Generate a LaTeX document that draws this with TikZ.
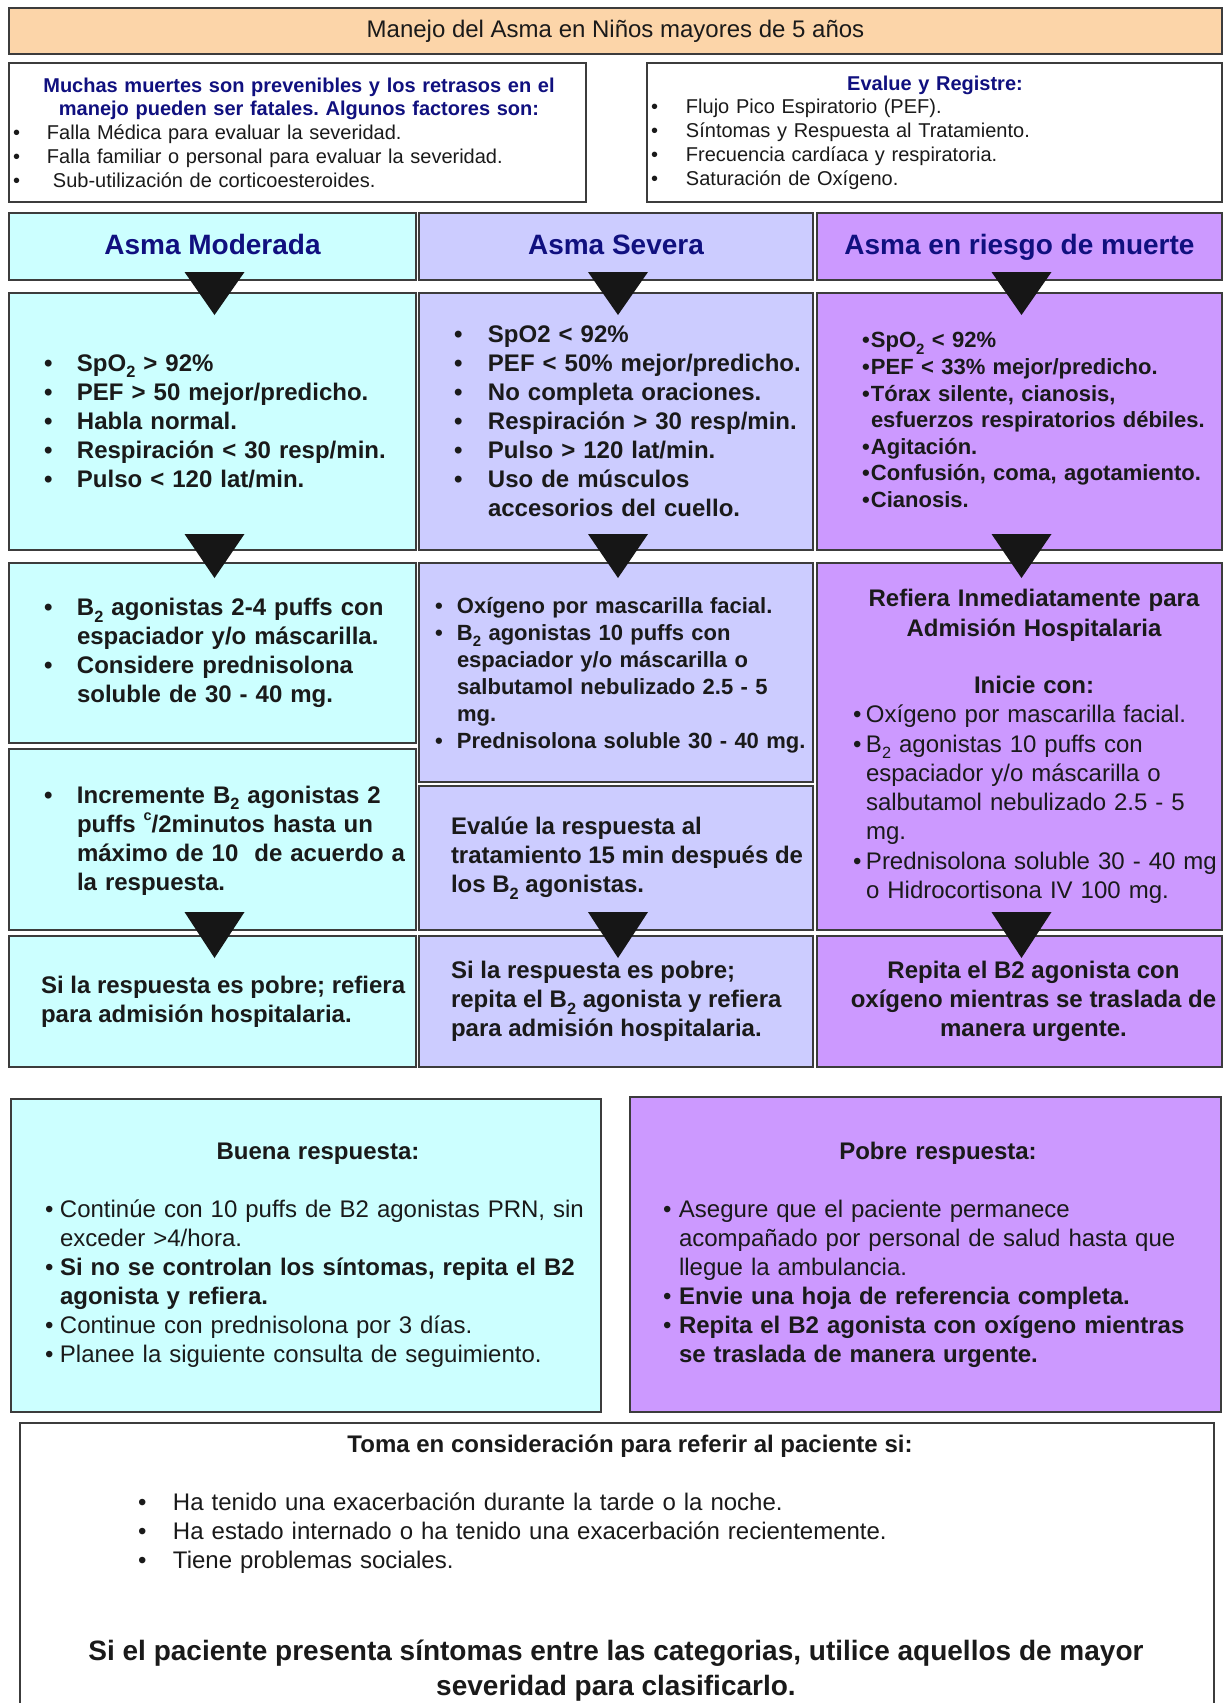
\documentclass[tikz,border=0pt]{standalone}
\usepackage{fontspec}
\setmainfont{Liberation Sans}
\usetikzlibrary{calc}
\definecolor{peach}{HTML}{FCD5A9}
\definecolor{cyanL}{HTML}{CCFFFF}
\definecolor{lav}{HTML}{CCCCFF}
\definecolor{purp}{HTML}{CC99FF}
\definecolor{navy}{HTML}{10107F}
\definecolor{ink}{HTML}{1A1A1A}
\definecolor{bordc}{HTML}{3C3C3C}
\definecolor{tric}{HTML}{161616}
\setlength\parindent{0pt}
\frenchspacing
\newcommand\bitem[2]{\par\hangindent=#1\hangafter=1\noindent\makebox[#1][l]{•}#2\par}
\newcommand\sub[1]{\raisebox{-0.28em}{\scalebox{0.68}{#1}}}
\newcommand\supc[1]{\raisebox{0.5em}{\scalebox{0.6}{#1}}}
\newcommand\arrowtri[3]{\fill[tric] ($(#1.south)+(-28,-#2)$) -- ($(#1.south)+(32,-#2)$) -- ($(#1.south)+(2,#3)$) -- cycle;}
\begin{document}
\frenchspacing
\begin{tikzpicture}[x=1pt,y=-1pt,
  tbox/.style={draw=bordc, line width=1.4pt, anchor=north west, inner sep=0pt, outer sep=0pt},
  txt/.style={inner sep=0pt, outer sep=0pt, text=ink},
  r24/.style={font=\fontsize{24}{29}\selectfont},
  b24/.style={font=\fontsize{24}{29}\selectfont\bfseries},
  b22/.style={font=\fontsize{22}{27}\selectfont\bfseries},
  b22s/.style={font=\fontsize{22}{26.6}\selectfont\bfseries},
  r20/.style={font=\fontsize{20}{23.8}\selectfont},
  hd/.style={txt, text=navy, anchor=base, font=\fontsize{28}{34}\selectfont\bfseries},
  lt/.style={txt, anchor=west, align=left},
]
\useasboundingbox (0,0) rectangle (1224,1703);
\fill[white] (0,0) rectangle (1224,1703);

% title
\node[tbox, fill=peach, minimum width=1213pt, minimum height=46pt] (title) at (9,8) {};
\node[txt, r24] (titlet) at (title.center) {Manejo del Asma en Niños mayores de 5 años};

% info boxes
\node[tbox, fill=white, minimum width=577pt, minimum height=139pt] (inf1) at (9,63) {};
\node[lt, r20, text width=572pt] (inf1t) at ($(inf1.west)+(4,0)$) {{\centering\color{navy}\bfseries Muchas muertes son prevenibles y los retrasos en el\par manejo pueden ser fatales. Algunos factores son:\par}%
\bitem{34pt}{Falla Médica para evaluar la severidad.}%
\bitem{34pt}{Falla familiar o personal para evaluar la severidad.}%
\bitem{34pt}{\hspace{6pt}Sub-utilización de corticoesteroides.}};

\node[tbox, fill=white, minimum width=575pt, minimum height=139pt] (inf2) at (647,63) {};
\node[lt, r20, text width=568pt] (inf2t) at ($(inf2.west)+(4,0)$) {{\centering\color{navy}\bfseries Evalue y Registre:\par}%
\bitem{35pt}{Flujo Pico Espiratorio (PEF).}%
\bitem{35pt}{Síntomas y Respuesta al Tratamiento.}%
\bitem{35pt}{Frecuencia cardíaca y respiratoria.}%
\bitem{35pt}{Saturación de Oxígeno.}};

% headers
\node[tbox, fill=cyanL, minimum width=407pt, minimum height=67pt] (h1) at (9,213) {};
\node[tbox, fill=lav, minimum width=394pt, minimum height=67pt] (h2) at (419,213) {};
\node[tbox, fill=purp, minimum width=405pt, minimum height=67pt] (h3) at (817,213) {};
\node[hd] (h1t) at (h1.center |- 0,254.5) {Asma Moderada};
\node[hd] (h2t) at (h2.center |- 0,254.5) {Asma Severa};
\node[hd] (h3t) at (h3.center |- 0,254.5) {Asma en riesgo de muerte};

% symptoms
\node[tbox, fill=cyanL, minimum width=407pt, minimum height=257pt] (s1) at (9,293) {};
\node[tbox, fill=lav, minimum width=394pt, minimum height=257pt] (s2) at (419,293) {};
\node[tbox, fill=purp, minimum width=405pt, minimum height=257pt] (s3) at (817,293) {};
\node[lt, b24, text width=370pt] (s1t) at ($(s1.west)+(35,-6.5)$) {%
\bitem{33pt}{SpO\sub{2} > 92\%}%
\bitem{33pt}{PEF > 50 mejor/predicho.}%
\bitem{33pt}{Habla normal.}%
\bitem{33pt}{Respiración < 30 resp/min.}%
\bitem{33pt}{Pulso < 120 lat/min.}};
\node[lt, b24, text width=365pt] (s2t) at ($(s2.west)+(35,-6)$) {%
\bitem{34pt}{SpO2 < 92\%}%
\bitem{34pt}{PEF < 50\% mejor/predicho.}%
\bitem{34pt}{No completa oraciones.}%
\bitem{34pt}{Respiración > 30 resp/min.}%
\bitem{34pt}{Pulso > 120 lat/min.}%
\bitem{34pt}{Uso de músculos\newline accesorios del cuello.}};
\node[lt, b22s, text width=370pt] (s3t) at ($(s3.west)+(45,-7)$) {%
\bitem{9pt}{SpO\sub{2} < 92\%}%
\bitem{9pt}{PEF < 33\% mejor/predicho.}%
\bitem{9pt}{Tórax silente, cianosis,\newline esfuerzos respiratorios débiles.}%
\bitem{9pt}{Agitación.}%
\bitem{9pt}{Confusión, coma, agotamiento.}%
\bitem{9pt}{Cianosis.}};

% treatment row
\node[tbox, fill=cyanL, minimum width=407pt, minimum height=180pt] (t1a) at (9,563) {};
\node[tbox, fill=cyanL, minimum width=407pt, minimum height=181pt] (t1b) at (9,749) {};
\node[tbox, fill=lav, minimum width=394pt, minimum height=219pt] (t2a) at (419,563) {};
\node[tbox, fill=lav, minimum width=394pt, minimum height=144pt] (t2b) at (419,786) {};
\node[tbox, fill=purp, minimum width=405pt, minimum height=367pt] (t3) at (817,563) {};

\node[lt, b24, text width=385pt] (t1at) at ($(t1a.west)+(35,-5.5)$) {%
\bitem{33pt}{B\sub{2} agonistas 2-4 puffs con\newline espaciador y/o máscarilla.}%
\bitem{33pt}{Considere prednisolona\newline soluble de 30 - 40 mg.}};
\node[lt, b24, text width=385pt] (t1bt) at ($(t1b.west)+(35,-5)$) {%
\bitem{33pt}{Incremente B\sub{2} agonistas 2\newline puffs \supc{c}/2minutos hasta un\newline máximo de 10~ de acuerdo a\newline la respuesta.}};
\node[lt, b22, text width=385pt] (t2at) at ($(t2a.west)+(16,-3)$) {%
\bitem{22pt}{Oxígeno por mascarilla facial.}%
\bitem{22pt}{B\sub{2} agonistas 10 puffs con\newline espaciador y/o máscarilla o\newline salbutamol nebulizado 2.5 - 5\newline mg.}%
\bitem{22pt}{Prednisolona soluble 30 - 40 mg.}};
\node[lt, b24] (t2bt) at ($(t2b.west)+(32,0)$) {Evalúe la respuesta al\\ tratamiento 15 min después de\\ los B\sub{2} agonistas.};
\node[lt, font=\fontsize{24}{29.3}\selectfont, text width=385pt] (t3t) at ($(t3.west)+(36,0)$) {{\bfseries\makebox[362pt]{Refiera Inmediatamente para}\par\makebox[362pt]{Admisión Hospitalaria}\par\vspace{28pt}\makebox[362pt]{Inicie con:}\par}%
\bitem{13pt}{Oxígeno por mascarilla facial.}%
\bitem{13pt}{B\sub{2} agonistas 10 puffs con\newline espaciador y/o máscarilla o\newline salbutamol nebulizado 2.5 - 5\newline mg.}%
\bitem{13pt}{Prednisolona soluble 30 - 40 mg\newline o Hidrocortisona IV 100 mg.}};

% response row
\node[tbox, fill=cyanL, minimum width=407pt, minimum height=131pt] (r1) at (9,936) {};
\node[tbox, fill=lav, minimum width=394pt, minimum height=131pt] (r2) at (419,936) {};
\node[tbox, fill=purp, minimum width=405pt, minimum height=131pt] (r3) at (817,936) {};
\node[lt, b24] (r1t) at ($(r1.west)+(32,0)$) {Si la respuesta es pobre; refiera\\ para admisión hospitalaria.};
\node[lt, b24] (r2t) at ($(r2.west)+(32,0)$) {Si la respuesta es pobre;\\ repita el B\sub{2} agonista y refiera\\ para admisión hospitalaria.};
\node[txt, b24, align=center] (r3t) at ($(r3.center)+(14,0)$) {Repita el B2 agonista con\\ oxígeno mientras se traslada de\\ manera urgente.};

% triangles
\arrowtri{h1}{8}{35}
\arrowtri{h2}{8}{35}
\arrowtri{h3}{8}{35}
\arrowtri{s1}{16}{28}
\arrowtri{s2}{16}{28}
\arrowtri{s3}{16}{28}
\arrowtri{t1b}{18}{28}
\arrowtri{t2b}{18}{28}
\arrowtri{t3}{18}{28}

% buena / pobre
\node[tbox, fill=cyanL, minimum width=590pt, minimum height=313pt] (buena) at (11,1099) {};
\node[lt, r24, text width=546pt] (buenat) at ($(buena.west)+(34,0)$) {{\centering\bfseries Buena respuesta:\par}\vspace{29pt}%
\bitem{15pt}{Continúe con 10 puffs de B2 agonistas PRN, sin\newline exceder >4/hora.}%
\bitem{15pt}{\textbf{Si no se controlan los síntomas, repita el B2\newline agonista y refiera.}}%
\bitem{15pt}{Continue con prednisolona por 3 días.}%
\bitem{15pt}{Planee la siguiente consulta de seguimiento.}};

\node[tbox, fill=purp, minimum width=591pt, minimum height=315pt] (pobre) at (630,1097) {};
\node[lt, r24, text width=550pt] (pobret) at ($(pobre.west)+(33,0)$) {{\centering\bfseries Pobre respuesta:\par}\vspace{29pt}%
\bitem{16pt}{Asegure que el paciente permanece\newline acompañado por personal de salud hasta que\newline llegue la ambulancia.}%
\bitem{16pt}{\textbf{Envie una hoja de referencia completa.}}%
\bitem{16pt}{\textbf{Repita el B2 agonista con oxígeno mientras\newline se traslada de manera urgente.}}};

% bottom box
\begin{scope}
\clip (0,0) rectangle (1224,1703);
\node[tbox, fill=white, minimum width=1194pt, minimum height=320pt] (consid) at (20,1423) {};
\end{scope}
\node[txt, b24] (considt) at (630,1446) {Toma en consideración para referir al paciente si:};
\node[lt, r24, text width=800pt] (considl) at (138,1527.7) {%
\bitem{35pt}{Ha tenido una exacerbación durante la tarde o la noche.}%
\bitem{35pt}{Ha estado internado o ha tenido una exacerbación recientemente.}%
\bitem{35pt}{Tiene problemas sociales.}};
\node[txt, align=center, font=\fontsize{28}{35}\selectfont\bfseries] (final) at (616,1671) {Si el paciente presenta síntomas entre las categorias, utilice aquellos de mayor\\ severidad para clasificarlo.};
\end{tikzpicture}
\end{document}
